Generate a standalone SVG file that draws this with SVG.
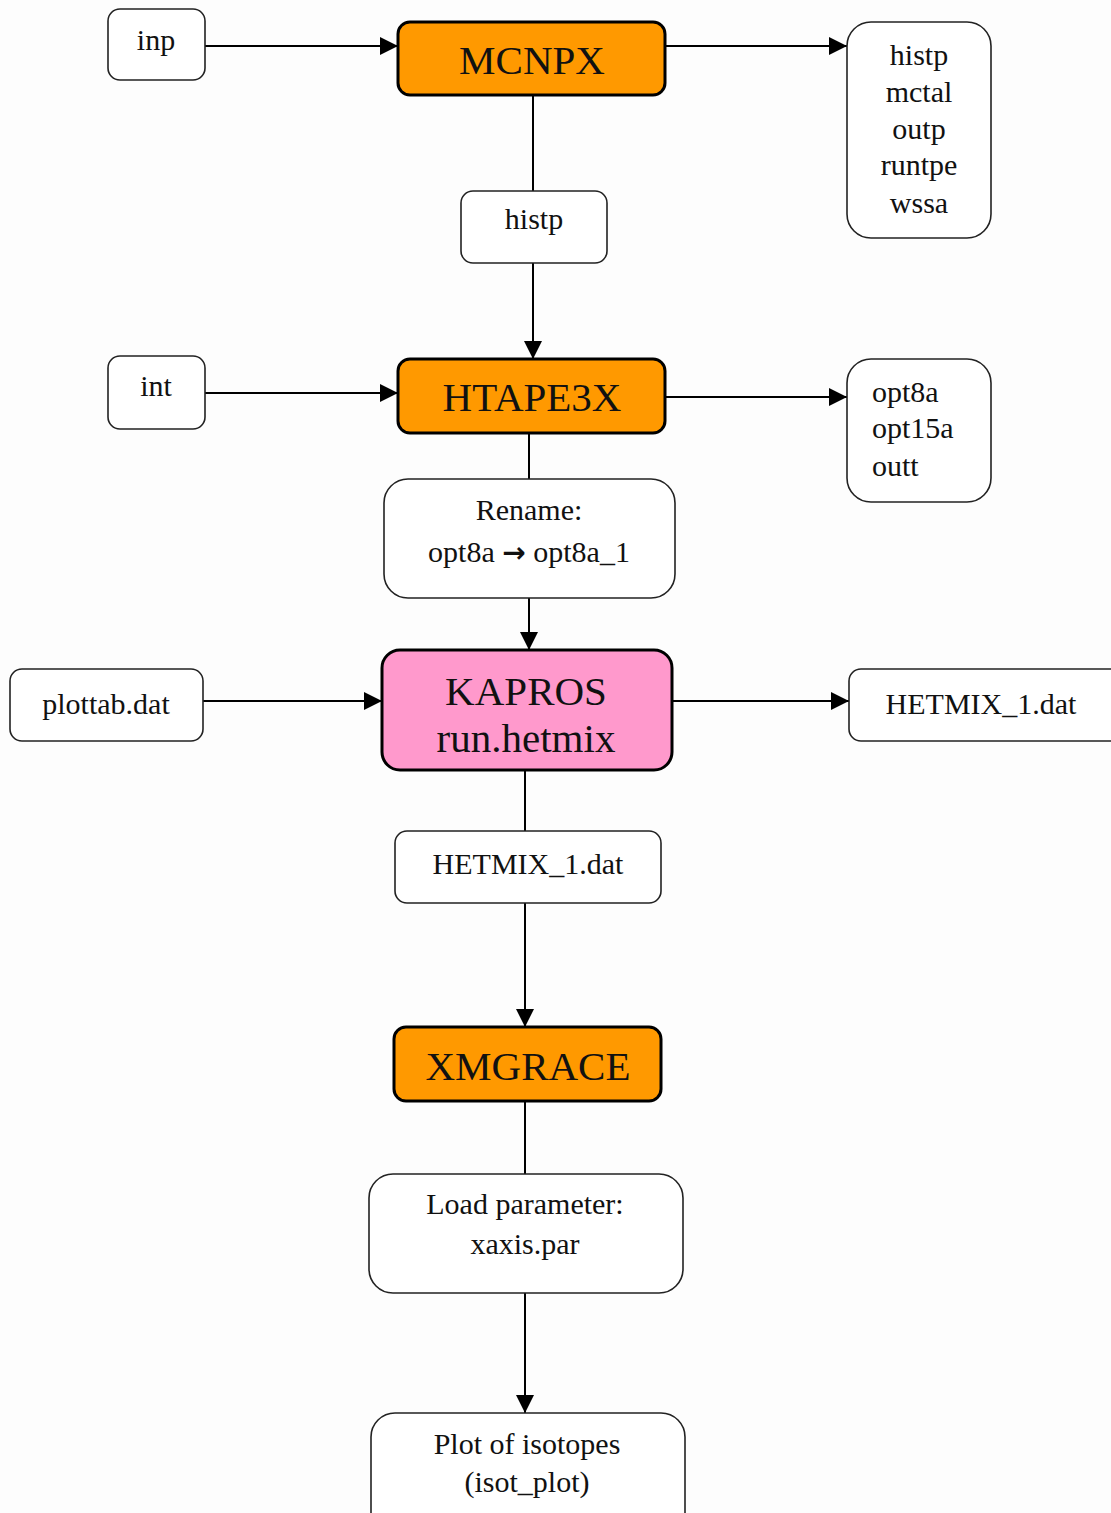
<svg xmlns="http://www.w3.org/2000/svg" width="1111" height="1513" viewBox="0 0 1111 1513">
<style>
.box{fill:#fff;stroke:#222;stroke-width:1.6}
.proc{stroke:#000;stroke-width:3}
.t{font-family:"Liberation Serif","Times New Roman",serif;font-size:30px;fill:#111}
.big{font-family:"Liberation Serif","Times New Roman",serif;font-size:41px;fill:#111}
.arr{font-family:"DejaVu Sans",sans-serif;font-weight:bold;font-size:28px}
.c{stroke:#000;stroke-width:2;fill:none}
</style>
<defs>
<marker id="ah" viewBox="0 0 10 10" refX="10" refY="5" markerWidth="18" markerHeight="18" markerUnits="userSpaceOnUse" orient="auto">
<path d="M0,0 L10,5 L0,10 z" fill="#000"/>
</marker>
</defs>
<rect width="1111" height="1513" fill="#fdfdfd"/>
<g id="connectors">
<line class="c" x1="205" y1="46" x2="398" y2="46" marker-end="url(#ah)"/>
<line class="c" x1="665" y1="46" x2="847" y2="46" marker-end="url(#ah)"/>
<line class="c" x1="533" y1="95" x2="533" y2="191"/>
<line class="c" x1="533" y1="263" x2="533" y2="359" marker-end="url(#ah)"/>
<line class="c" x1="205" y1="393" x2="398" y2="393" marker-end="url(#ah)"/>
<line class="c" x1="665" y1="397" x2="847" y2="397" marker-end="url(#ah)"/>
<line class="c" x1="529" y1="433" x2="529" y2="479"/>
<line class="c" x1="529" y1="598" x2="529" y2="650" marker-end="url(#ah)"/>
<line class="c" x1="203" y1="701" x2="382" y2="701" marker-end="url(#ah)"/>
<line class="c" x1="672" y1="701" x2="849" y2="701" marker-end="url(#ah)"/>
<line class="c" x1="525" y1="770" x2="525" y2="831"/>
<line class="c" x1="525" y1="903" x2="525" y2="1027" marker-end="url(#ah)"/>
<line class="c" x1="525" y1="1101" x2="525" y2="1174"/>
<line class="c" x1="525" y1="1293" x2="525" y2="1413" marker-end="url(#ah)"/>
</g>
<g id="inp"><rect class="box" x="108" y="9" width="97" height="71" rx="12"/><text class="t" x="156" y="50" text-anchor="middle">inp</text></g>
<g id="mcnpx"><rect class="proc" x="398" y="22" width="267" height="73" rx="12" fill="#FF9900"/><text class="big" x="532" y="74" text-anchor="middle">MCNPX</text></g>
<g id="mcnpx-out"><rect class="box" x="847" y="22" width="144" height="216" rx="24"/>
<text class="t" text-anchor="middle"><tspan x="919" y="65">histp</tspan><tspan x="919" y="102">mctal</tspan><tspan x="919" y="139">outp</tspan><tspan x="919" y="175">runtpe</tspan><tspan x="919" y="213">wssa</tspan></text></g>
<g id="histp"><rect class="box" x="461" y="191" width="146" height="72" rx="12"/><text class="t" x="534" y="229" text-anchor="middle">histp</text></g>
<g id="int"><rect class="box" x="108" y="356" width="97" height="73" rx="12"/><text class="t" x="156" y="396" text-anchor="middle">int</text></g>
<g id="htape3x"><rect class="proc" x="398" y="359" width="267" height="74" rx="12" fill="#FF9900"/><text class="big" x="532" y="411" text-anchor="middle">HTAPE3X</text></g>
<g id="htape-out"><rect class="box" x="847" y="359" width="144" height="143" rx="24"/>
<text class="t"><tspan x="872" y="402">opt8a</tspan><tspan x="872" y="438">opt15a</tspan><tspan x="872" y="476">outt</tspan></text></g>
<g id="rename"><rect class="box" x="384" y="479" width="291" height="119" rx="24"/>
<text class="t" text-anchor="middle"><tspan x="529" y="520">Rename:</tspan><tspan x="529" y="562">opt8a <tspan class="arr">→</tspan> opt8a_1</tspan></text></g>
<g id="plottab"><rect class="box" x="10" y="669" width="193" height="72" rx="12"/><text class="t" x="106" y="714" text-anchor="middle">plottab.dat</text></g>
<g id="kapros"><rect class="proc" x="382" y="650" width="290" height="120" rx="18" fill="#FF99CC"/>
<text class="big" text-anchor="middle"><tspan x="526" y="705">KAPROS</tspan><tspan x="526" y="752">run.hetmix</tspan></text></g>
<g id="hetmix-out"><rect class="box" x="849" y="669" width="280" height="72" rx="12"/><text class="t" x="981" y="714" text-anchor="middle">HETMIX_1.dat</text></g>
<g id="hetmix"><rect class="box" x="395" y="831" width="266" height="72" rx="12"/><text class="t" x="528" y="874" text-anchor="middle">HETMIX_1.dat</text></g>
<g id="xmgrace"><rect class="proc" x="394" y="1027" width="267" height="74" rx="12" fill="#FF9900"/><text class="big" x="528" y="1080" text-anchor="middle">XMGRACE</text></g>
<g id="load"><rect class="box" x="369" y="1174" width="314" height="119" rx="24"/>
<text class="t" text-anchor="middle"><tspan x="525" y="1214">Load parameter:</tspan><tspan x="525" y="1254">xaxis.par</tspan></text></g>
<g id="plot"><rect class="box" x="371" y="1413" width="314" height="130" rx="24"/>
<text class="t" text-anchor="middle"><tspan x="527" y="1454">Plot of isotopes</tspan><tspan x="527" y="1492">(isot_plot)</tspan></text></g>
</svg>
